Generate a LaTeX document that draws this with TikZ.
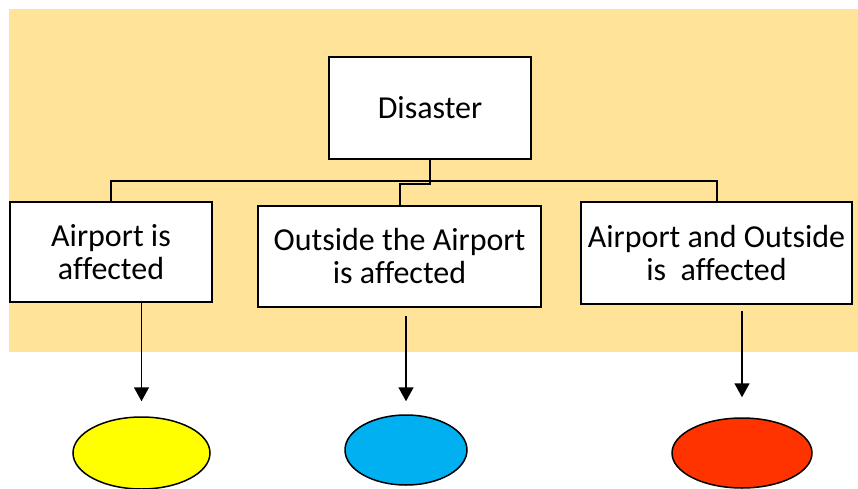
\documentclass[tikz,border=0pt]{standalone}
\usepackage{fontspec}
\setmainfont{Carlito}[Ligatures=NoCommon]
\usetikzlibrary{shapes.geometric,arrows.meta,positioning,calc}
\definecolor{sand}{HTML}{FFE399}
\definecolor{lemon}{HTML}{FFFF00}
\definecolor{skyblue}{HTML}{00B0F0}
\definecolor{fire}{HTML}{FF3300}

\begin{document}
\begin{tikzpicture}[x=1pt,y=-1pt,
    every node/.style={font=\fontsize{32}{33}\selectfont},
    box/.style={rectangle,draw,line width=2pt,fill=white,align=center,inner sep=0pt},
    outcome/.style={ellipse,draw,line width=1.5pt,minimum width=137pt,minimum height=72pt},
    link/.style={line width=2pt},
    arrow/.style={-{Triangle[width=15pt,length=14pt]},line width=1.6pt}
]
\useasboundingbox (0,0) rectangle (858,489);
\clip (0,0) rectangle (858,489);

% Background
\fill[sand] (9,9) rectangle (858,352);

% Top event
\node[box,minimum width=202pt,minimum height=102pt] (disaster) at (430,108) {Disaster};

% Cases
\node[box,minimum width=202pt,minimum height=100pt] (airport) at (111,252) {Airport is\\affected};
\node[box,minimum width=283pt,minimum height=101pt] (outside) at (399.5,256.5) {Outside the Airport\\is affected};
\node[box,minimum width=271pt,minimum height=102pt] (both) at (716.5,253) {Airport and Outside\\is\ \ affected};

% Outcomes
\node[outcome,fill=lemon] (ellA) at (141.5,453) {};
\node[outcome,fill=skyblue,minimum width=122pt,minimum height=70pt] (ellB) at (406,450) {};
\node[outcome,fill=fire,minimum width=140pt,minimum height=70pt] (ellC) at (742,453) {};

% Connections
\coordinate (bus) at (430,181);
\coordinate (drop) at (430,184);
\draw[link] (airport.north) |- (bus) -| (both.north);
\draw[link] (disaster.south) -- (drop) -| (outside.north);

\draw[arrow] (ellA.north |- airport.south) -- ([yshift=15pt]ellA.north);
\draw[arrow] ($(ellB.north |- outside.south)+(0,8)$) -- ([yshift=13pt]ellB.north);
\draw[arrow] ($(ellC.north |- both.south)+(0,6)$) -- ([yshift=20pt]ellC.north);

\end{tikzpicture}
\end{document}
